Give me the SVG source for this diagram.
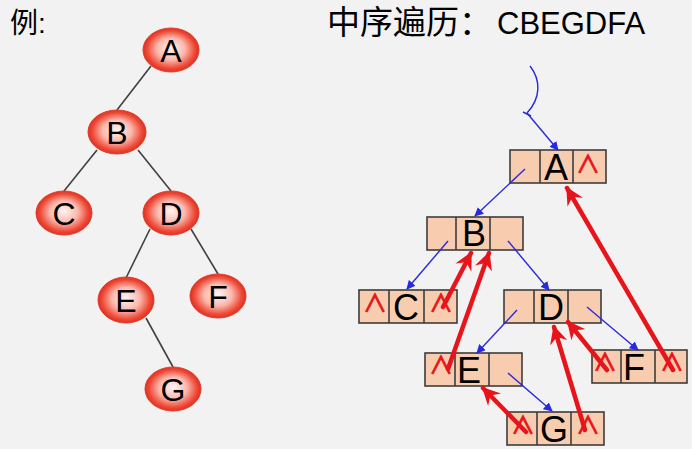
<svg xmlns="http://www.w3.org/2000/svg" width="692" height="449" viewBox="0 0 692 449">
<defs>
<radialGradient id="ball" cx="50%" cy="50%" r="50%" fx="50%" fy="45%">
<stop offset="0" stop-color="#FFF4F2"/>
<stop offset="0.5" stop-color="#FBB8AC"/>
<stop offset="0.85" stop-color="#EE4A38"/>
<stop offset="1" stop-color="#E0301F"/>
</radialGradient>
<marker id="bh" viewBox="0 0 10 10" refX="9" refY="5" markerWidth="9" markerHeight="9" markerUnits="userSpaceOnUse" orient="auto">
<path d="M0,0 L10,5 L0,10 z" fill="#2828E0"/>
</marker>
<marker id="rh" viewBox="0 0 12 12" refX="11" refY="6" markerWidth="18" markerHeight="18" markerUnits="userSpaceOnUse" orient="auto">
<path d="M0,0 L12,6 L0,12 L4,6 z" fill="#E8141B"/>
</marker>
<style>
text{font-family:"Liberation Sans","Noto Sans CJK SC",sans-serif;fill:#000}
.edge{stroke:#404040;stroke-width:1.6;fill:none}
.ell{fill:url(#ball);stroke:#E03A2A;stroke-width:1}
.lbl{font-size:32px;text-anchor:middle}
.box{fill:#F8CDAF;stroke:#3C3C3C;stroke-width:1.6}
.div{stroke:#3C3C3C;stroke-width:1.6}
.bl{font-size:36px;text-anchor:middle}
.nil{font-family:"Noto Sans CJK SC",sans-serif;font-size:24px;fill:#E8141B;stroke:#E8141B;stroke-width:0.9;text-anchor:middle}
.blue{stroke:#2828E0;stroke-width:1.4;fill:none}
.red{stroke:#E8141B;stroke-width:4.5;fill:none;stroke-linecap:round}
</style>
</defs>
<rect width="692" height="449" fill="#F2F2F2"/>
<text x="10" y="33" font-size="28">例:</text>
<text x="327" y="34" font-size="33">中序遍历：<tspan x="497" font-size="31">CBEGDFA</tspan></text>

<g id="tree-edges">
<line class="edge" x1="151" y1="66" x2="117" y2="110"/>
<line class="edge" x1="97" y1="150" x2="64" y2="191"/>
<line class="edge" x1="138" y1="150" x2="171" y2="191"/>
<line class="edge" x1="150" y1="229" x2="126" y2="278"/>
<line class="edge" x1="191" y1="229" x2="218" y2="274"/>
<line class="edge" x1="146" y1="318" x2="173" y2="367"/>
</g>
<g id="tA"><ellipse class="ell" cx="171" cy="50" rx="28" ry="22"/><text class="lbl" x="171" y="62">A</text></g>
<g id="tB"><ellipse class="ell" cx="117" cy="132" rx="29" ry="22"/><text class="lbl" x="117" y="144">B</text></g>
<g id="tC"><ellipse class="ell" cx="64" cy="213" rx="28" ry="22"/><text class="lbl" x="64" y="225">C</text></g>
<g id="tD"><ellipse class="ell" cx="171" cy="213" rx="28" ry="22"/><text class="lbl" x="171" y="225">D</text></g>
<g id="tE"><ellipse class="ell" cx="126" cy="300" rx="28" ry="23"/><text class="lbl" x="126" y="312">E</text></g>
<g id="tF"><ellipse class="ell" cx="218" cy="296" rx="28" ry="22"/><text class="lbl" x="218" y="308">F</text></g>
<g id="tG"><ellipse class="ell" cx="173" cy="389" rx="28" ry="22"/><text class="lbl" x="173" y="401">G</text></g>

<g id="nA">
<rect class="box" x="510" y="150" width="96" height="33"/>
<line class="div" x1="540" y1="150" x2="540" y2="183"/><line class="div" x1="573" y1="150" x2="573" y2="183"/>
<text class="bl" x="556" y="180">A</text><text class="nil" x="588" y="173">∧</text>
</g>
<g id="nB">
<rect class="box" x="427" y="217" width="96" height="33"/>
<line class="div" x1="456" y1="217" x2="456" y2="250"/><line class="div" x1="490" y1="217" x2="490" y2="250"/>
<text class="bl" x="474" y="246">B</text>
</g>
<g id="nC">
<rect class="box" x="359" y="290" width="98" height="33"/>
<line class="div" x1="389" y1="290" x2="389" y2="323"/><line class="div" x1="424" y1="290" x2="424" y2="323"/>
<text class="nil" x="375" y="312">∧</text><text class="bl" x="406" y="320">C</text><text class="nil" x="441" y="312">∧</text>
</g>
<g id="nD">
<rect class="box" x="504" y="290" width="97" height="33"/>
<line class="div" x1="534" y1="290" x2="534" y2="323"/><line class="div" x1="568" y1="290" x2="568" y2="323"/>
<text class="bl" x="551" y="320">D</text>
</g>
<g id="nE">
<rect class="box" x="425" y="353" width="97" height="33"/>
<line class="div" x1="455" y1="353" x2="455" y2="386"/><line class="div" x1="489" y1="353" x2="489" y2="386"/>
<text class="nil" x="441" y="374">∧</text><text class="bl" x="469" y="383">E</text>
</g>
<g id="nF">
<rect class="box" x="592" y="350" width="95" height="33"/>
<line class="div" x1="621" y1="350" x2="621" y2="383"/><line class="div" x1="655" y1="350" x2="655" y2="383"/>
<text class="nil" x="605" y="371">∧</text><text class="bl" x="634" y="380">F</text><text class="nil" x="672" y="371">∧</text>
</g>
<g id="nG">
<rect class="box" x="507" y="412" width="97" height="33"/>
<line class="div" x1="537" y1="412" x2="537" y2="445"/><line class="div" x1="571" y1="412" x2="571" y2="445"/>
<text class="nil" x="523" y="434">∧</text><text class="bl" x="554" y="442">G</text><text class="nil" x="588" y="434">∧</text>
</g>

<g id="connectors">
<path class="blue" d="M530,66 C541,80 541,98 527,113"/>
<line class="blue" x1="523" y1="112" x2="531" y2="116"/>
<line class="blue" x1="527" y1="113" x2="558" y2="150" marker-end="url(#bh)"/>
<line class="blue" x1="525" y1="169" x2="475" y2="216" marker-end="url(#bh)"/>
<line class="blue" x1="448" y1="241" x2="407" y2="289" marker-end="url(#bh)"/>
<line class="blue" x1="508" y1="241" x2="549" y2="290" marker-end="url(#bh)"/>
<line class="blue" x1="517" y1="310" x2="477" y2="353" marker-end="url(#bh)"/>
<line class="blue" x1="587" y1="307" x2="638" y2="350" marker-end="url(#bh)"/>
<line class="blue" x1="508" y1="373" x2="552" y2="411" marker-end="url(#bh)"/>

<line class="red" x1="443" y1="307" x2="471" y2="253" marker-end="url(#rh)"/>
<line class="red" x1="448" y1="369" x2="489" y2="253" marker-end="url(#rh)"/>
<line class="red" x1="526" y1="432" x2="483" y2="388" marker-end="url(#rh)"/>
<line class="red" x1="585" y1="430" x2="554" y2="327" marker-end="url(#rh)"/>
<line class="red" x1="607" y1="370" x2="568" y2="322" marker-end="url(#rh)"/>
<line class="red" x1="673" y1="370" x2="567" y2="188" marker-end="url(#rh)"/>
</g>
</svg>
